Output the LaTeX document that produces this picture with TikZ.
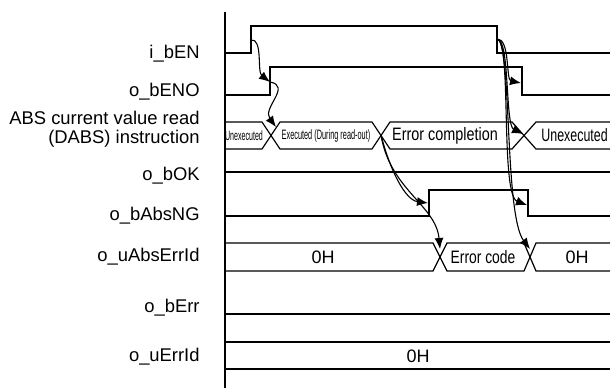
\documentclass[tikz,border=0pt]{standalone}
\usepackage{fontspec}
\setmainfont{Liberation Sans}
\usepackage{graphicx}
\usetikzlibrary{arrows.meta}

\begin{document}
\begin{tikzpicture}[x=0.5pt,y=-0.5pt,
  sig/.style={line width=0.6pt},
  lbl/.style={anchor=east,font=\fontsize{9.2}{9.5}\selectfont,align=right,inner sep=0pt},
  val/.style={font=\fontsize{9}{10}\selectfont,inner sep=0pt},
  tiny/.style={font=\fontsize{6.8}{7}\selectfont,inner sep=0pt},
  cause/.style={line width=0.55pt,-{Latex[length=5.5pt,width=4.5pt]}}]
  \useasboundingbox (0,0) rectangle (610,388);
  % Time axis
  \draw[sig] (225,12) -- (225,388);
  % Signal names
  \node[lbl] (nEN)   at (200,54)    {i\_bEN};
  \node[lbl] (nENO)  at (200,92)    {o\_bENO};
  \node[lbl] (nDABS) at (200,129.5) {ABS current value read\\(DABS) instruction};
  \node[lbl] (nOK)   at (200,176)   {o\_bOK};
  \node[lbl] (nNG)   at (200,216)   {o\_bAbsNG};
  \node[lbl] (nAErr) at (200,257)   {o\_uAbsErrId};
  \node[lbl] (nErr)  at (200,308)   {o\_bErr};
  \node[lbl] (nEId)  at (200,357)   {o\_uErrId};
  % Bit signals
  \draw[sig] (225,53) -- (251,53) -- (251,26) -- (497,26) -- (497,53) -- (610,53);
  \draw[sig] (225,95) -- (270,95) -- (270,67) -- (522,67) -- (522,95) -- (610,95);
  \draw[sig] (225,172) -- (610,172);
  \draw[sig] (225,216) -- (429,216) -- (429,190) -- (528,190) -- (528,216) -- (610,216);
  \draw[sig] (225,314) -- (610,314);
  % Instruction state
  \draw[sig] (225,122) -- (262,122) -- (280,149) -- (372,149) -- (390,122) -- (512,122) -- (536,149) -- (610,149);
  \draw[sig] (225,149) -- (262,149) -- (280,122) -- (372,122) -- (390,149) -- (512,149) -- (536,122) -- (610,122);
  \node[tiny] (sUnex) at (244,135.5) {\scalebox{0.52}[1]{Unexecuted}};
  \node[tiny] (sExec) at (326,135.5) {\scalebox{0.54}[1]{Executed (During read-out)}};
  \node[val]  (sDone) at (445,135.5) {\scalebox{0.8}[1]{Error completion}};
  \node[val,anchor=west] (sIdle) at (541,135.5) {\scalebox{0.69}[1]{Unexecuted}};
  % Error code words
  \draw[sig] (225,243) -- (433,243) -- (447,271) -- (524,271) -- (536,243) -- (610,243);
  \draw[sig] (225,271) -- (433,271) -- (447,243) -- (524,243) -- (536,271) -- (610,271);
  \node[val] (aZero) at (323,257) {0H};
  \node[val] (aCode) at (483,257) {\scalebox{0.77}[1]{Error code}};
  \node[val] (aBack) at (577,257) {0H};
  \draw[sig] (225,342) -- (610,342);
  \draw[sig] (225,369) -- (610,369);
  \node[val] (eZero) at (418,356) {0H};
  % Edge points
  \coordinate (enRise)  at (251,40);
  \coordinate (enoRise) at (270,82);
  \coordinate (xRun)    at (276,127);
  \coordinate (xDone)   at (381,135);
  \coordinate (ngRise)  at (428,203);
  \coordinate (codeX)   at (440,249);
  \coordinate (enFall)  at (497,39);
  \coordinate (enoFall) at (521,83);
  \coordinate (xIdle)   at (523,134);
  \coordinate (ngFall)  at (527,205);
  \coordinate (backX)   at (530,249);
  % Cause and effect
  \draw[cause] (enRise) .. controls (263,38) and (257,72) .. (enoRise);
  \draw[cause] (enoRise) .. controls (292,86) and (262,108) .. (xRun);
  \draw[cause] (xDone) .. controls (390,170) and (405,200) .. (ngRise);
  \draw[cause] (xDone) .. controls (390,190) and (436,205) .. (codeX);
  \draw[cause] (enFall) .. controls (510,38) and (506,80) .. (enoFall);
  \draw[cause] (enFall) .. controls (510,38) and (505,125) .. (xIdle);
  \draw[cause] (enFall) .. controls (512,40) and (500,195) .. (ngFall);
  \draw[cause] (enFall) .. controls (512,40) and (504,215) .. (backX);
\end{tikzpicture}
\end{document}
